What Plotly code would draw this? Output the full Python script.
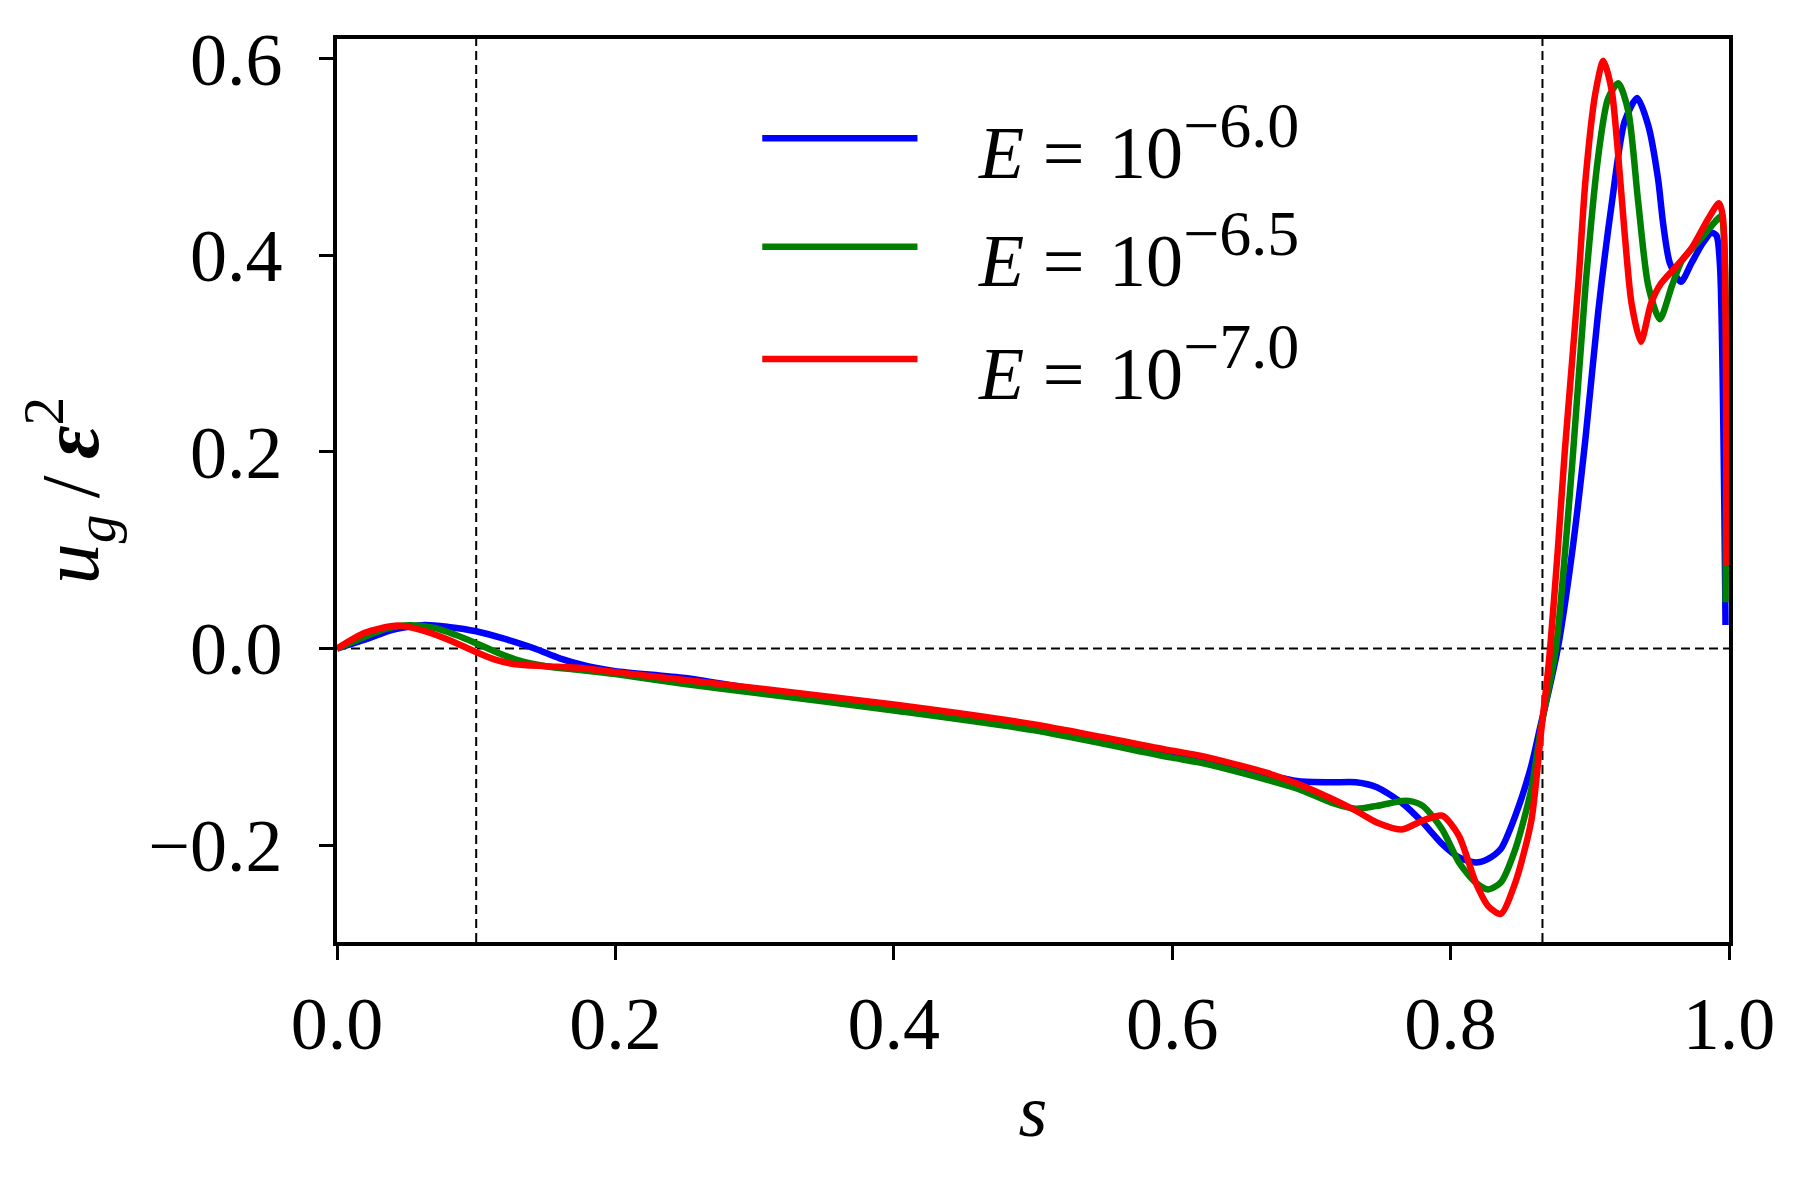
import plotly.graph_objects as go

# ---------------- data ----------------
s_e60 = [0, 0.02, 0.04, 0.063, 0.08, 0.1, 0.12, 0.142, 0.16, 0.18, 0.2, 0.25, 0.3, 0.4, 0.5,
         0.6, 0.62, 0.667, 0.691, 0.715, 0.732, 0.747, 0.765, 0.780, 0.794, 0.806, 0.818, 0.827,
         0.836, 0.8465, 0.858, 0.865, 0.871, 0.877, 0.8875, 0.897, 0.906, 0.916, 0.925, 0.934,
         0.942, 0.949, 0.9527, 0.9575, 0.9654, 0.973, 0.981, 0.9874, 0.991, 0.9935, 0.9975]
u_e60 = [0, 0.009, 0.019, 0.024, 0.022, 0.0176, 0.010, 0.0, -0.010, -0.018, -0.023, -0.030, -0.041,
         -0.059, -0.079, -0.106, -0.112, -0.128, -0.135, -0.136, -0.136, -0.141, -0.157, -0.177,
         -0.199, -0.2125, -0.2176, -0.214, -0.204, -0.170, -0.119, -0.076, -0.04, 0.0, 0.10, 0.215,
         0.342, 0.455, 0.536, 0.560, 0.532, 0.478, 0.432, 0.392, 0.373, 0.392, 0.412, 0.423, 0.420,
         0.39, 0.024]

s_e65 = [0, 0.02, 0.035, 0.052, 0.07, 0.085, 0.099, 0.115, 0.128, 0.15, 0.176, 0.2, 0.25, 0.3, 0.4,
         0.5, 0.6, 0.62, 0.667, 0.691, 0.715, 0.732, 0.747, 0.765, 0.770, 0.780, 0.794, 0.806,
         0.818, 0.827, 0.836, 0.8465, 0.858, 0.865, 0.8756, 0.8875, 0.897, 0.906, 0.913, 0.9205,
         0.9277, 0.9347, 0.942, 0.9503, 0.959, 0.966, 0.978, 0.9919, 0.9945, 0.9975]
u_e65 = [0, 0.012, 0.020, 0.0237, 0.021, 0.014, 0.006, -0.004, -0.011, -0.018, -0.022, -0.026,
         -0.036, -0.045, -0.063, -0.083, -0.111, -0.116, -0.133, -0.143, -0.157, -0.163, -0.160,
         -0.155, -0.155, -0.160, -0.184, -0.2176, -0.238, -0.245, -0.238, -0.204, -0.143, -0.08,
         0.0, 0.19, 0.37, 0.50, 0.559, 0.575, 0.546, 0.455, 0.369, 0.335, 0.369, 0.394, 0.414,
         0.437, 0.44, 0.047]

s_e70 = [0, 0.02, 0.042, 0.06, 0.08, 0.099, 0.113, 0.128, 0.15, 0.176, 0.2, 0.25, 0.3, 0.4, 0.5,
         0.6, 0.62, 0.667, 0.691, 0.715, 0.732, 0.747, 0.765, 0.780, 0.794, 0.806, 0.818, 0.827,
         0.836, 0.8465, 0.858, 0.865, 0.8705, 0.877, 0.882, 0.8875, 0.892, 0.897, 0.904, 0.9097,
         0.9157, 0.9205, 0.925, 0.930, 0.9367, 0.944, 0.951, 0.961, 0.973, 0.985, 0.9928, 0.9955,
         0.998]
u_e70 = [0, 0.016, 0.0233, 0.019, 0.009, -0.003, -0.011, -0.016, -0.018, -0.020, -0.024, -0.032,
         -0.040, -0.057, -0.077, -0.104, -0.109, -0.126, -0.138, -0.153, -0.165, -0.177, -0.184,
         -0.175, -0.170, -0.1905, -0.238, -0.262, -0.270, -0.238, -0.175, -0.085, -0.015, 0.10,
         0.20, 0.296, 0.376, 0.478, 0.565, 0.598, 0.568, 0.50, 0.423, 0.351, 0.312, 0.351, 0.371,
         0.387, 0.407, 0.437, 0.453, 0.44, 0.085]

series_exponents = ["−6.0", "−6.5", "−7.0"]
series_colors = ["#0000ff", "#008000", "#ff0000"]

x_tick_vals = [0.0, 0.2, 0.4, 0.6, 0.8, 1.0]
x_tick_text = ["0.0", "0.2", "0.4", "0.6", "0.8", "1.0"]
y_tick_vals = [-0.2, 0.0, 0.2, 0.4, 0.6]
y_tick_text = ["−0.2", "0.0", "0.2", "0.4", "0.6"]

vlines_s = [0.1, 0.866]
hline_u = [0.0]

# ---------------- figure ----------------
FONT = "Liberation Serif"
FS = 74
fig = go.Figure()
for s, u, c in zip([s_e60, s_e65, s_e70], [u_e60, u_e65, u_e70], series_colors):
    fig.add_trace(go.Scatter(x=s, y=u, mode="lines",
                             line=dict(color=c, width=6.5, shape="spline", smoothing=0.7),
                             showlegend=False, hoverinfo="skip"))

shapes = []
for v in vlines_s:
    shapes.append(dict(type="line", xref="x", yref="paper", x0=v, x1=v, y0=0, y1=1,
                       line=dict(color="black", width=2, dash="9px,5px"), layer="below"))
for h in hline_u:
    shapes.append(dict(type="line", xref="paper", yref="y", x0=0, x1=1, y0=h, y1=h,
                       line=dict(color="black", width=2, dash="9px,5px"), layer="below"))

# manual legend (long line samples as in the original)
leg_y = [0.890, 0.770, 0.6456]
annotations = []
for ex, c, yy in zip(series_exponents, series_colors, leg_y):
    lab = ("<i>E</i> = \u200a10<sup><span style='font-size:64px'>" + ex + "</span></sup>")
    shapes.append(dict(type="line", xref="paper", yref="paper", x0=0.3055, x1=0.417,
                       y0=yy, y1=yy, line=dict(color=c, width=6.5)))
    annotations.append(dict(xref="paper", yref="paper", x=0.4587, y=yy - 0.004, text=lab,
                            showarrow=False, xanchor="left", yanchor="middle",
                            font=dict(family=FONT, size=FS, color="black")))

fig.update_layout(
    width=1807, height=1185,
    margin=dict(l=329, r=86, t=31, b=251),
    paper_bgcolor="white", plot_bgcolor="white",
    font=dict(family=FONT, size=FS, color="black"),
    shapes=shapes, annotations=annotations,
)
fig.update_xaxes(range=[0, 1], tickvals=x_tick_vals, ticktext=x_tick_text,
                 showgrid=False, zeroline=False, showline=True, mirror=True,
                 linecolor="black", linewidth=3.5, ticks="outside", ticklen=14,
                 tickwidth=2.5, tickcolor="black", tickfont=dict(family=FONT, size=FS),
                 title=dict(text="<i>s</i>", font=dict(family=FONT, size=FS), standoff=22))
fig.update_yaxes(range=[-0.2985, 0.620], tickvals=y_tick_vals, ticktext=y_tick_text,
                 showgrid=False, zeroline=False, showline=True, mirror=True,
                 linecolor="black", linewidth=3.5, ticks="outside", ticklen=14,
                 tickwidth=2.5, tickcolor="black", tickfont=dict(family=FONT, size=FS),
                 ticklabelstandoff=22,
                 title=dict(text="<i>u<sub>g</sub></i>\u2009/\u2009<b><i>ε</i></b><sup>2</sup>",
                            font=dict(family=FONT, size=82), standoff=24))

fig.write_html("out.html")
